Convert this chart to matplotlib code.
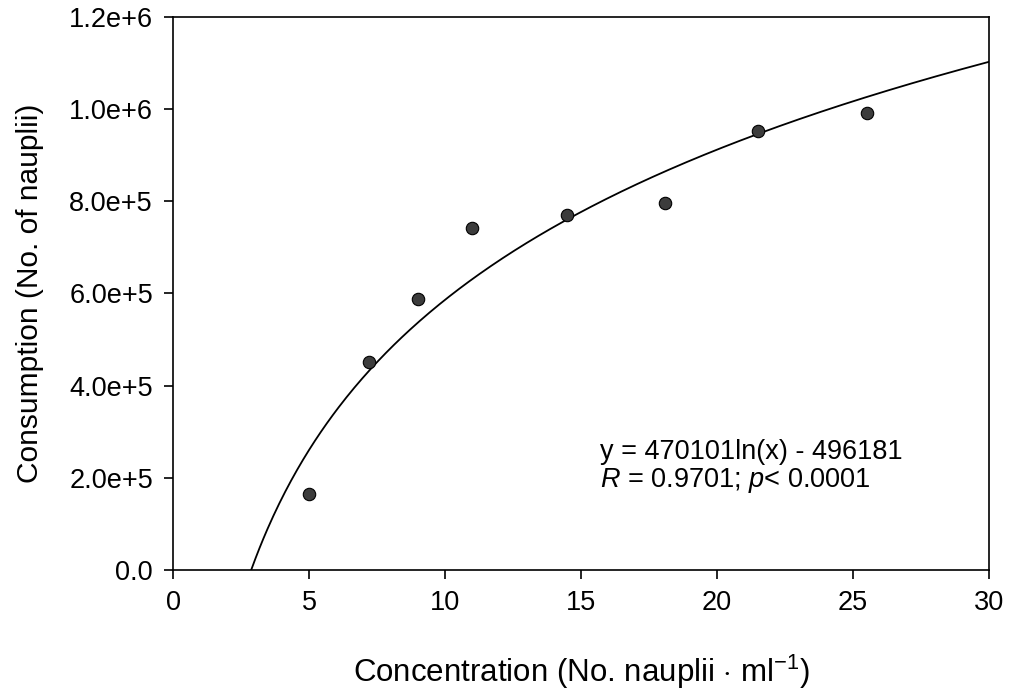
import matplotlib
matplotlib.use("Agg")
import matplotlib.pyplot as plt
import numpy as np

plt.rcParams["font.family"] = ["Liberation Sans", "DejaVu Sans"]
plt.rcParams["mathtext.fontset"] = "custom"
plt.rcParams["mathtext.rm"] = "Liberation Sans"
plt.rcParams["mathtext.it"] = "Liberation Sans:italic"

# observed points
concentration = [5.0, 7.2, 9.0, 11.0, 14.5, 18.1, 21.5, 25.5]
consumption = [1.65e5, 4.51e5, 5.88e5, 7.42e5, 7.70e5, 7.96e5, 9.53e5, 9.92e5]

# logarithmic fit reported on the chart
fit_a = 470101
fit_b = -496181
fit_r = 0.9701

x_ticks = [0, 5, 10, 15, 20, 25, 30]
y_ticks = [0.0, 2.0e5, 4.0e5, 6.0e5, 8.0e5, 1.0e6, 1.2e6]
y_ticklabels = ["0.0", "2.0e+5", "4.0e+5", "6.0e+5", "8.0e+5", "1.0e+6", "1.2e+6"]

fig = plt.figure(figsize=(10.09, 6.93), dpi=100)
ax = fig.add_axes([0.1715, 0.1775, 0.8087, 0.798])

x_fit = np.linspace(1.0, 30.0, 400)
y_fit = fit_a * np.log(x_fit) + fit_b
ax.plot(x_fit, y_fit, color="black", linewidth=1.3)

ax.scatter(concentration, consumption, s=80, color="#3c3c3c",
           edgecolors="black", linewidths=0.8, zorder=5)

ax.set_xlim(0, 30)
ax.set_ylim(0, 1.2e6)
ax.set_xticks(x_ticks)
ax.set_yticks(y_ticks)
ax.set_yticklabels(y_ticklabels)
ax.tick_params(direction="out", length=6.5, width=1.2, labelsize=19.5)
ax.tick_params(axis="y", pad=8)
ax.tick_params(axis="x", pad=8)
for sp in ax.spines.values():
    sp.set_linewidth(1.2)

ax.set_xlabel("Concentration (No. nauplii $\\cdot$ ml$^{\\mathregular{-1}}$)",
              fontsize=22.5, labelpad=26)
ax.set_ylabel("Consumption (No. of nauplii)", fontsize=21.5, labelpad=18)

ax.text(15.7, 2.56e5, f"y = {fit_a}ln(x) - {abs(fit_b)}", fontsize=19.5, va="center")
ax.text(15.7, 1.95e5, f"$\\it{{R}}$ = {fit_r}; $\\it{{p}}$< 0.0001", fontsize=19.5, va="center")

fig.savefig("out.png", dpi=100)
